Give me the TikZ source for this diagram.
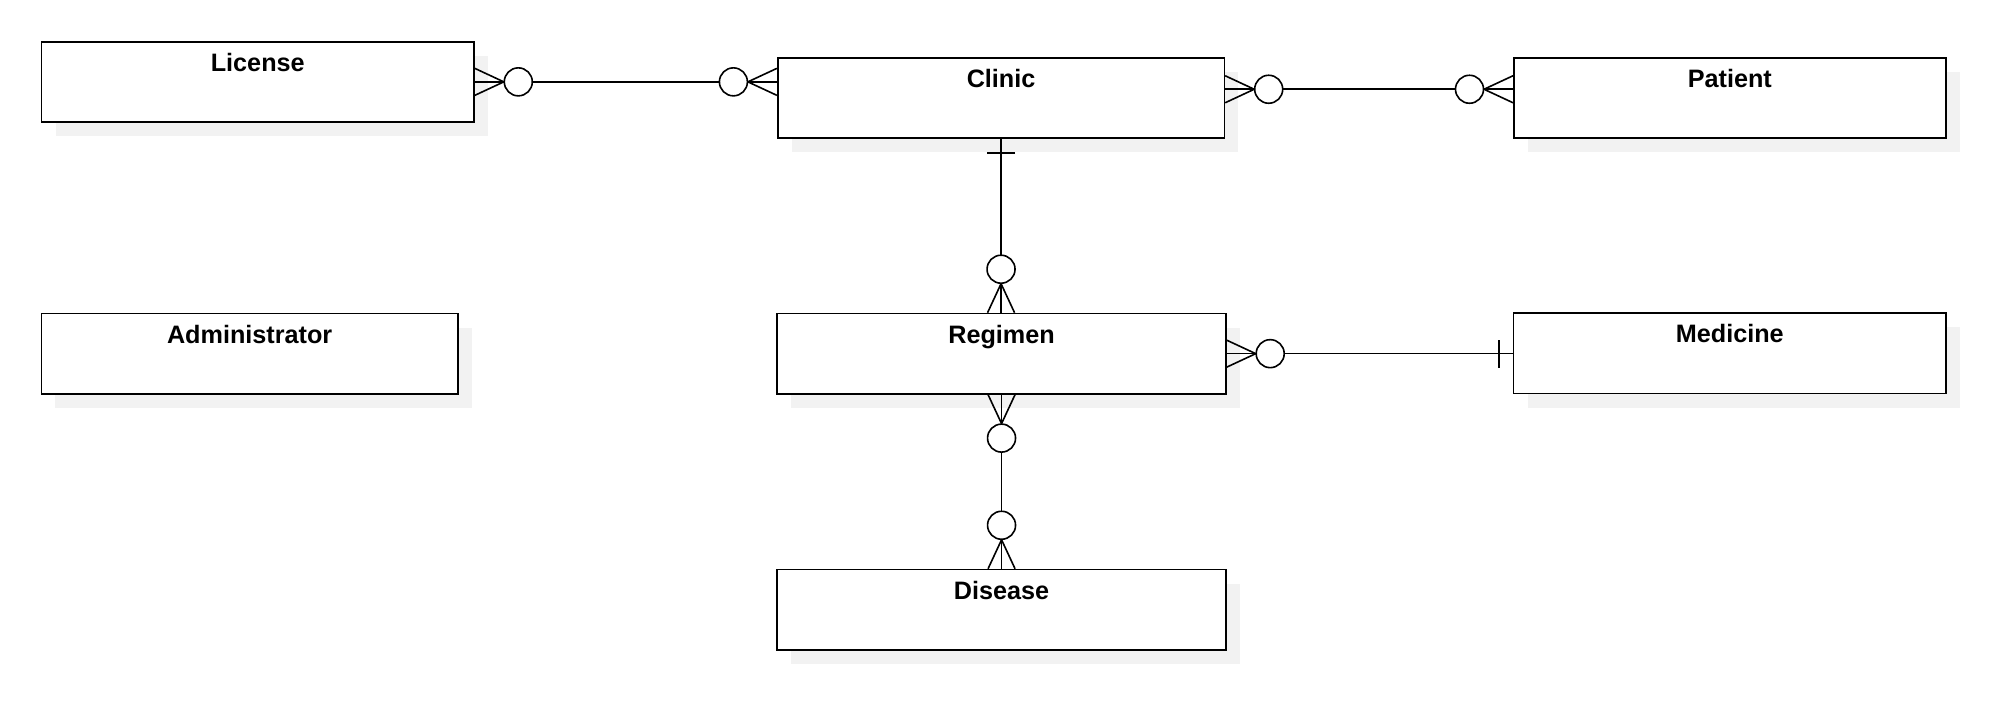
\documentclass[tikz,border=0pt]{standalone}
\usepackage{fontspec}
\setmainfont{Liberation Sans}
\usetikzlibrary{shadows}
\begin{document}
\begin{tikzpicture}[x=0.5pt, y=-0.5pt,
	zeromany/.pic={\draw[er] (0,13.5) -- (29,0) -- (0,-13.5);
		\draw[er,fill=white] (43.5,0) circle[radius=14];},
	onebar/.pic={\draw[er] (14,-14) -- (14,14);}]
		\tikzstyle{entity} = [rectangle,draw,line width=0.8pt,fill=white,inner sep=0pt,minimum height=40.15pt,text height=14.75pt,text depth=25.4pt,font=\bfseries\fontsize{12.6}{15}\selectfont,drop shadow={shadow xshift=7pt,shadow yshift=-7pt,fill=black!5,opacity=1}]
		\tikzstyle{er} = [line width=0.8pt]
		\useasboundingbox (0,0) rectangle (2004,708);
		\node[entity,minimum width=216.25pt](license)at (257.75,81.85){License};
		\node[entity,minimum width=223.35pt](clinic)at (1001.05,97.85){Clinic};
		\node[entity,minimum width=216pt](patient)at (1729.8,97.85){Patient};
		\node[entity,minimum width=208.35pt](admin)at (249.65,353.65){Administrator};
		\node[entity,minimum width=224.35pt](regimen)at (1001.55,353.65){Regimen};
		\node[entity,minimum width=216.25pt](medicine)at (1729.75,353.4){Medicine};
		\node[entity,minimum width=224.5pt](disease)at (1001.5,609.7){Disease};
		% relations
		\draw[er] (license.east) -- (license.east -| clinic.west);
		\draw[er] ([yshift=4.3pt]clinic.east) -- ([yshift=4.3pt]clinic.east -| patient.west);
		\draw[er] (clinic.south) -- (clinic.south |- regimen.north);
		\draw[er] (regimen.east) -- (regimen.east -| medicine.west);
		\draw[er] (regimen.south) -- (regimen.south |- disease.north);
		% ends
		\pic at (license.east) {zeromany};
		\pic[rotate=180] at (license.east -| clinic.west) {zeromany};
		\pic at ([yshift=4.3pt]clinic.east) {zeromany};
		\pic[rotate=180] at ([yshift=4.3pt]clinic.east -| patient.west) {zeromany};
		\pic[rotate=-90] at (clinic.south) {onebar};
		\pic[rotate=90] at (clinic.south |- regimen.north) {zeromany};
		\pic at (regimen.east) {zeromany};
		\pic[rotate=180] at (regimen.east -| medicine.west) {onebar};
		\pic[rotate=-90] at (regimen.south) {zeromany};
		\pic[rotate=90] at (regimen.south |- disease.north) {zeromany};
\end{tikzpicture}
\end{document}
